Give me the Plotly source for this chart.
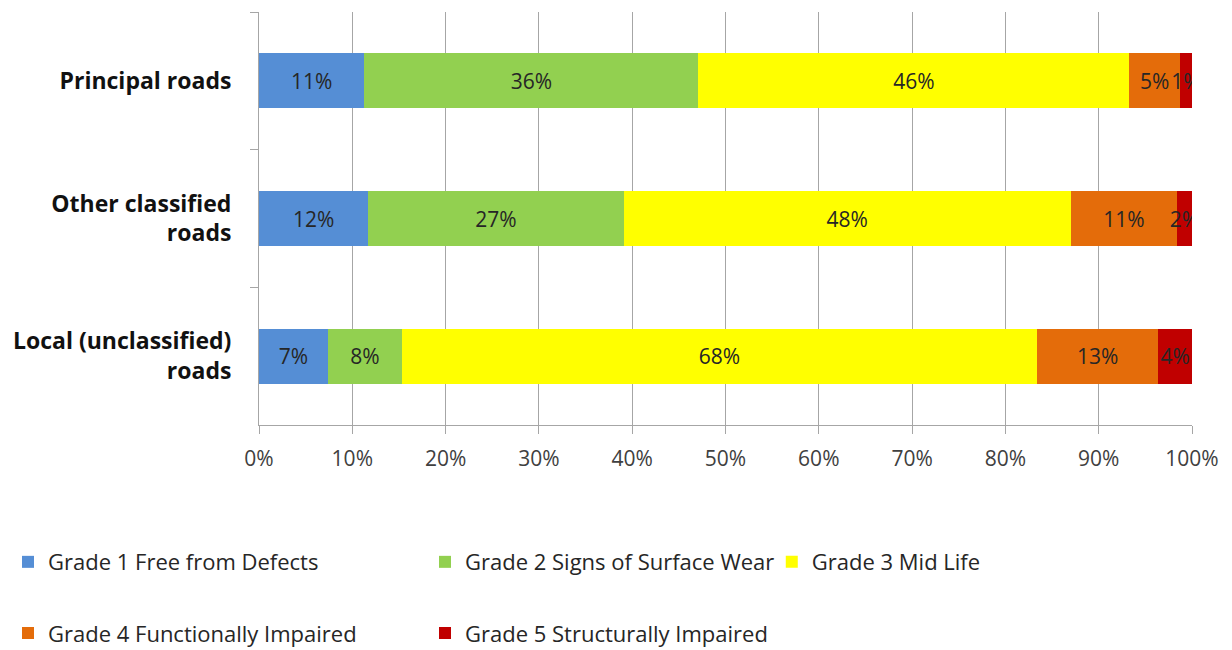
import plotly.graph_objects as go

categories = ["Principal roads", "Other classified<br>roads", "Local (unclassified)<br>roads"]
series_names = [
    "Grade 1 Free from Defects",
    "Grade 2 Signs of Surface Wear",
    "Grade 3 Mid Life",
    "Grade 4 Functionally Impaired",
    "Grade 5 Structurally Impaired",
]
grade1 = [11.3, 11.7, 7.4]
grade2 = [35.8, 27.4, 7.9]
grade3 = [46.2, 47.9, 68.1]
grade4 = [5.4, 11.4, 13.0]
grade5 = [1.3, 1.6, 3.6]
colors = ["#558ED5", "#92D050", "#FFFF00", "#E46C0A", "#C00000"]
legend_ids = ["legend", "legend", "legend3", "legend2", "legend2"]
x_ticks = list(range(0, 101, 10))

FONT = "Open Sans, sans-serif"
W, H = 1224, 642  # page body has an 8px margin

fig = go.Figure()
for name, vals, col, lg in zip(series_names, [grade1, grade2, grade3, grade4, grade5], colors, legend_ids):
    fig.add_trace(go.Bar(
        y=categories, x=vals, name=name, orientation="h",
        marker=dict(color=col, line=dict(width=0)),
        text=[f"{round(v)}%" for v in vals],
        textposition="inside", insidetextanchor="middle", textangle=0,
        constraintext="none",
        textfont=dict(size=21, color="#262626", family=FONT),
        legend=lg,
    ))

legend_common = dict(orientation="h", xref="container", yref="container",
                     xanchor="left", yanchor="middle", entrywidth=372,
                     font=dict(size=22, color="#262626", family=FONT),
                     itemclick=False, traceorder="normal",
                     bgcolor="rgba(0,0,0,0)")

fig.update_layout(
    barmode="stack",
    bargap=0.6,
    width=W, height=H,
    margin=dict(l=251, r=40, t=4, b=225, autoexpand=False),
    plot_bgcolor="white", paper_bgcolor="white",
    font=dict(family=FONT, color="#262626"),
    uniformtext=dict(minsize=21, mode="show"),
    legend=dict(legend_common, x=-0.002, y=0.137),
    legend3=dict(legend_common, x=0.624, y=0.137),
    legend2=dict(legend_common, x=-0.002, y=0.026),
    showlegend=True,
)
fig.update_xaxes(
    range=[0, 100], tickvals=x_ticks, ticktext=[f"{t}%" for t in x_ticks],
    showgrid=True, gridcolor="#A6A6A6", gridwidth=1,
    showline=True, linecolor="#A6A6A6", linewidth=1,
    ticks="outside", ticklen=8, tickcolor="#A6A6A6",
    tickfont=dict(size=21, color="#404040", family=FONT), zeroline=False,
    ticklabelstandoff=7, automargin=False,
)
fig.update_yaxes(
    categoryorder="array", categoryarray=categories, autorange="reversed",
    showgrid=False, showline=True, linecolor="#A6A6A6", linewidth=1,
    ticks="outside", ticklen=8, tickcolor="#A6A6A6", tickson="boundaries",
    tickfont=dict(size=23, color="#111111", family=FONT, weight="bold"),
    ticklabelstandoff=22, automargin=False,
)

fig.write_html("out.html")
